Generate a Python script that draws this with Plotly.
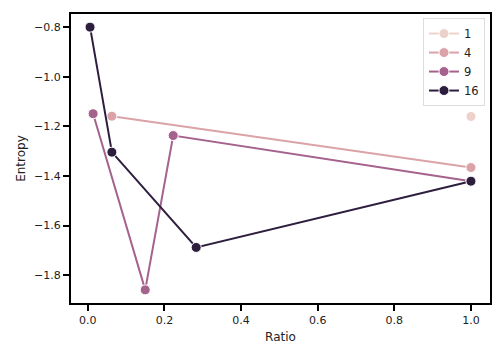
import plotly.graph_objects as go

hue_levels = ["1", "4", "9", "16"]
colors = ["#edd1cb", "#dba3a7", "#a5628c", "#2d1e3e"]
ratio = {
    "1": [1.0],
    "4": [0.063, 1.0],
    "9": [0.014, 0.150, 0.223, 1.0],
    "16": [0.006, 0.063, 0.283, 1.0],
}
entropy = {
    "1": [-1.160],
    "4": [-1.159, -1.366],
    "9": [-1.149, -1.859, -1.237, -1.421],
    "16": [-0.800, -1.304, -1.688, -1.421],
}
x_ticks = [0.0, 0.2, 0.4, 0.6, 0.8, 1.0]
y_ticks = [-1.8, -1.6, -1.4, -1.2, -1.0, -0.8]

fig = go.Figure()
for lvl, col in zip(hue_levels, colors):
    fig.add_trace(go.Scatter(
        x=ratio[lvl], y=entropy[lvl], name=lvl, mode="lines+markers",
        line=dict(color=col, width=2),
        marker=dict(color=col, size=10, line=dict(color="white", width=1)),
    ))

axis_common = dict(
    showgrid=False, zeroline=False, showline=True, linecolor="black", linewidth=2,
    mirror=True, ticks="outside", ticklen=6, tickwidth=2, tickcolor="black",
    tickfont=dict(family="DejaVu Sans", size=11, color="#222"), automargin=False,
)
fig.update_xaxes(range=[-0.0437, 1.0497], tickvals=x_ticks, tickformat=".1f",
                 title=dict(text="Ratio", font=dict(family="DejaVu Sans", size=12, color="#222"), standoff=6),
                 **axis_common)
fig.update_yaxes(range=[-1.912, -0.747], tickvals=y_ticks, tickformat=".1f",
                 title=dict(text="Entropy", font=dict(family="DejaVu Sans", size=12, color="#222"), standoff=6),
                 **axis_common)
fig.update_layout(
    width=504, height=360,
    margin=dict(l=71, r=14, t=14, b=57, autoexpand=False),
    plot_bgcolor="white", paper_bgcolor="white",
    font=dict(family="DejaVu Sans", size=11, color="#222"),
    legend=dict(x=0.988, y=0.986, xanchor="right", yanchor="top",
                bgcolor="rgba(255,255,255,0.8)", bordercolor="#dddddd", borderwidth=1,
                font=dict(size=11.5), tracegroupgap=0, itemwidth=30),
)
fig.write_html("out.html", config={"displayModeBar": False},
               post_script="document.body.style.margin='0';document.body.style.overflow='hidden';")
